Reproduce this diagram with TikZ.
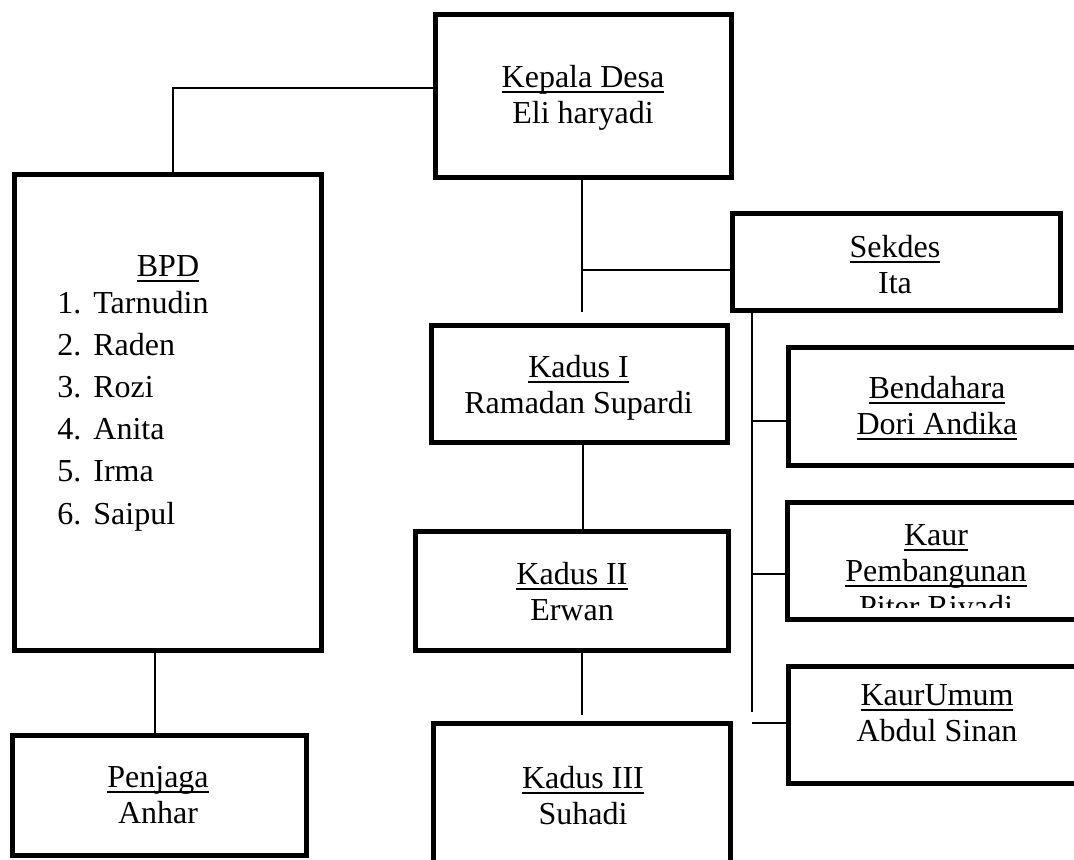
\documentclass[tikz,border=0pt]{standalone}
\usepackage{fontspec}
\setmainfont{Liberation Serif}
\newcommand\uln[1]{\setbox0=\hbox{#1}\rlap{\rule[-3pt]{\wd0}{0.85pt}}\box0}
\tikzset{
  box/.style={draw, line width=2.5pt, inner sep=0pt, outer sep=0pt},
  txt/.style={align=center, inner sep=0pt, anchor=base, font=\fontsize{16}{18}\selectfont},
  conn/.style={line width=0.8pt}
}
\begin{document}
\begin{tikzpicture}[x=0.5pt,y=-0.5pt]
\useasboundingbox (0,0) rectangle (1074,859);
\fill[white] (0,0) rectangle (1074,859);
\clip (0,0) rectangle (1074,859);
% boxes (text nodes: anchor = baseline of last line)
\node[box, minimum width=148pt, minimum height=81.5pt] (kepala) at (583,95.5) {};
\node[txt] (kepalat) at (583,123) {\uln{Kepala Desa}\\Eli haryadi};
\node[box, minimum width=153.5pt, minimum height=238pt] (bpd) at (167.5,412) {};
\node[txt] (bpdt) at (168,276) {\uln{BPD}};
\foreach \i/\n in {1/Tarnudin,2/Raden,3/Rozi,4/Anita,5/Irma,6/Saipul}{
  \node[txt, anchor=base west] (bpd\i) at (57,{313+42.2*(\i-1)}) {\makebox[18pt][l]{\i.}\n};
}
\node[box, minimum width=147pt, minimum height=60pt] (penjaga) at (159,795) {};
\node[txt] (penjagat) at (158,823) {\uln{Penjaga}\\Anhar};
\node[box, minimum width=164pt, minimum height=48.5pt] (sekdes) at (896,261.5) {};
\node[txt] (sekdest) at (895,293) {\uln{Sekdes}\\Ita};
\node[box, minimum width=148pt, minimum height=58.5pt] (kadus1) at (579,383.5) {};
\node[txt] (kadus1t) at (578.5,413) {\uln{Kadus I}\\Ramadan Supardi};
\node[box, minimum width=156.5pt, minimum height=59.5pt] (kadus2) at (571.5,590.5) {};
\node[txt] (kadus2t) at (572,620) {\uln{Kadus II}\\Erwan};
\node[box, minimum width=148.5pt, minimum height=88.5pt] (kadus3) at (581.5,811.5) {};
\node[txt] (kadus3t) at (583,824) {\uln{Kadus III}\\Suhadi};
\node[box, minimum width=156pt, minimum height=59pt] (bend) at (944,406) {};
\node[txt] (bendt) at (937,434) {\uln{Bendahara}\\\uln{Dori Andika}};
\node[box, minimum width=156.5pt, minimum height=58.5pt] (kp) at (943.5,560.5) {};
\begin{scope}
  \clip (kp.north west) rectangle (1074,607);
  \node[txt] (kpt) at (936,617) {\uln{Kaur}\\\uln{Pembangunan}\\Piter Riyadi};
\end{scope}
\node[box, minimum width=156pt, minimum height=58.5pt] (umum) at (944,724.5) {};
\node[txt] (umumt) at (937,741) {\uln{KaurUmum}\\Abdul Sinan};
% connectors
\draw[conn] (kepala.west |- 0,88) -| (bpd.north -| 173,0);
\draw[conn] (bpd.south -| 155,0) -- (penjaga.north -| 155,0);
\coordinate (kend) at (582,312);
\draw[conn] (kepala.south -| 582,0) -- (kend);
\coordinate (kj) at (582,270);
\draw[conn] (kj) -- (sekdes.west |- 0,270);
\draw[conn] (kadus1.south -| 583,0) -- (kadus2.north -| 583,0);
\coordinate (k3end) at (582,715);
\draw[conn] (kadus2.south -| 582,0) -- (k3end);
\coordinate (send) at (752,712);
\draw[conn] (sekdes.south -| 752,0) -- (send);
\coordinate (bj) at (752,421);
\draw[conn] (bj) -- (bend.west |- 0,421);
\coordinate (kpj) at (752,574);
\draw[conn] (kpj) -- (kp.west |- 0,574);
\coordinate (uj) at (752,723);
\draw[conn] (uj) -- (umum.west |- 0,723);
\end{tikzpicture}
\end{document}
